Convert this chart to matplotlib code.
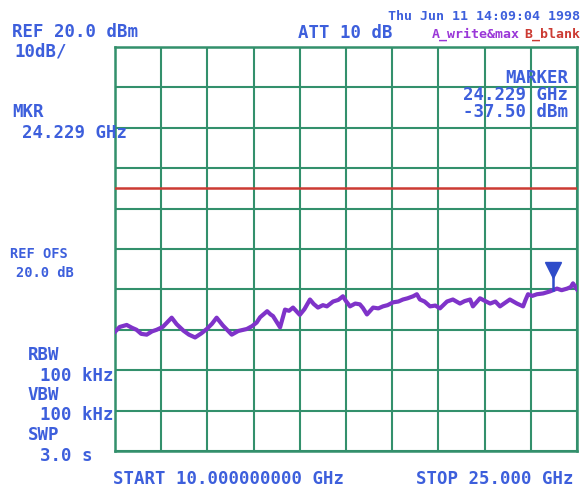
import matplotlib.pyplot as plt


# Data

freq_ghz = [10.00, 10.15, 10.38, 10.55, 10.70, 10.85, 11.03, 11.20, 11.35, 11.55,
            11.84, 12.00, 12.22, 12.40, 12.60, 12.80, 12.98, 13.15, 13.30, 13.50,
            13.79, 14.00, 14.28, 14.45, 14.60, 14.71, 14.94, 15.05, 15.13, 15.36,
            15.52, 15.65, 15.78, 16.00, 16.15, 16.33, 16.45, 16.59, 16.75, 16.88,
            17.08, 17.25, 17.40, 17.50, 17.63, 17.80, 17.95, 18.05, 18.18, 18.38,
            18.55, 18.70, 18.85, 19.03, 19.20, 19.35, 19.50, 19.68, 19.80, 19.90,
            20.05, 20.23, 20.40, 20.55, 20.78, 20.97, 21.20, 21.35, 21.53, 21.62,
            21.85, 22.00, 22.18, 22.35, 22.50, 22.65, 22.82, 23.05, 23.25, 23.33,
            23.41, 23.55, 23.70, 23.90, 24.12, 24.35, 24.50, 24.68, 24.80, 24.87, 25.00]
level_dbm = [-50.5, -49.3, -48.8, -49.5, -50.0, -51.0, -51.2, -50.4, -50.0, -49.3,
             -47.0, -48.6, -50.2, -51.2, -51.9, -50.9, -49.8, -48.5, -47.0, -48.9,
             -51.2, -50.3, -49.8, -49.1, -48.2, -46.9, -45.4, -46.2, -46.6, -49.4,
             -45.0, -45.3, -44.5, -46.3, -44.9, -42.5, -43.6, -44.5, -43.9, -44.2,
             -43.0, -42.6, -41.7, -42.9, -44.2, -43.5, -43.7, -44.6, -46.2, -44.5,
             -44.7, -44.2, -43.9, -43.2, -43.0, -42.5, -42.2, -41.7, -41.2, -42.5,
             -43.0, -44.2, -44.0, -44.7, -43.0, -42.5, -43.5, -42.9, -42.5, -44.2,
             -42.2, -42.8, -43.5, -43.0, -44.2, -43.4, -42.5, -43.5, -44.2, -42.6,
             -41.2, -41.6, -41.2, -41.0, -40.5, -39.8, -40.2, -39.8, -39.4, -38.5, -40.0]

marker_freq = 24.229
marker_level = -40.1
limit_dbm = -15.0

start_ghz, stop_ghz = 10.0, 25.0
ref_dbm, db_per_div = 20.0, 10.0


# Colours

GRID = "#33906c"
BLUE = "#3d5fdc"
MARK = "#2f4cc9"
TRACE = "#7f33c9"
RED = "#cc3b33"
MONO = "DejaVu Sans Mono"

W, H = 584, 493

fig = plt.figure(figsize=(W / 100, H / 100), dpi=100)
ax = fig.add_axes([115 / W, 1 - 451 / H, (577 - 115) / W, (451 - 47) / H])

ax.set_xlim(start_ghz, stop_ghz)
ax.set_ylim(ref_dbm - 10 * db_per_div, ref_dbm)
ax.set_xticks([start_ghz + i * (stop_ghz - start_ghz) / 10 for i in range(11)])
ax.set_yticks([ref_dbm - i * db_per_div for i in range(11)])
ax.grid(True, color=GRID, linewidth=1.5)
ax.tick_params(length=0, labelbottom=False, labelleft=False)
for s in ax.spines.values():
    s.set_color(GRID)
    s.set_linewidth(1.8)

ax.axhline(limit_dbm, color=RED, linewidth=1.8, zorder=3)
ax.plot(freq_ghz, level_dbm, color=TRACE, linewidth=3.0, zorder=4,
        solid_joinstyle="round")

# marker
ax.plot([marker_freq, marker_freq], [marker_level, -36.0], color=MARK, linewidth=1.8, zorder=5)
ax.plot([marker_freq], [-35.2], marker="v", markersize=11, color=MARK, zorder=5,
        linestyle="none")


def txt(x, y, s, size=12.5, color=BLUE, ha="left"):
    fig.text(x / W, 1 - y / H, s, fontsize=size, color=color, ha=ha,
             va="baseline", family=MONO, fontweight="bold")


txt(12, 37, "REF 20.0 dBm")
txt(14, 56, "10dB/")
txt(12, 117, "MKR")
txt(22, 138, "24.229 GHz")
txt(298, 38, "ATT 10 dB")
txt(580, 20, "Thu Jun 11 14:09:04 1998", size=9.5, ha="right")
txt(432, 38, "A_write&max", size=9.5, color="#9a36d8")
txt(580, 38, "B_blank", size=9.5, color=RED, ha="right")
txt(568, 83, "MARKER", ha="right")
txt(568, 100, "24.229 GHz", ha="right")
txt(568, 117, "-37.50 dBm", ha="right")
txt(10, 258, "REF OFS", size=9.8)
txt(16, 277, "20.0 dB", size=9.8)
txt(28, 360, "RBW")
txt(40, 381, "100 kHz")
txt(28, 400, "VBW")
txt(40, 420, "100 kHz")
txt(28, 440, "SWP")
txt(40, 461, "3.0 s")
txt(113, 484, "START 10.000000000 GHz")
txt(573, 484, "STOP 25.000 GHz", ha="right")

fig.savefig("out.png", dpi=100)
